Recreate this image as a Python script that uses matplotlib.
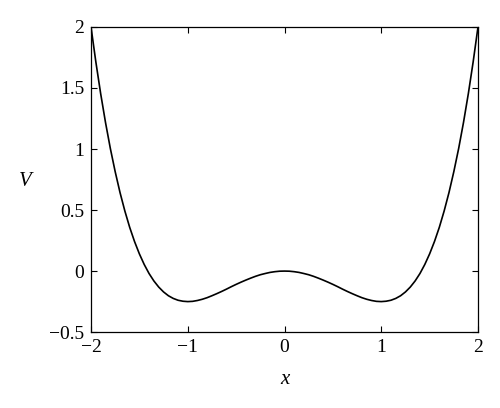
import matplotlib.pyplot as plt

# values at steps of 0.05
x = [-2.0, -1.95, -1.9, -1.85, -1.8, -1.75, -1.7, -1.65, -1.6, -1.55,
     -1.5, -1.45, -1.4, -1.35, -1.3, -1.25, -1.2, -1.15, -1.1, -1.05,
     -1.0, -0.95, -0.9, -0.85, -0.8, -0.75, -0.7, -0.65, -0.6, -0.55,
     -0.5, -0.45, -0.4, -0.35, -0.3, -0.25, -0.2, -0.15, -0.1, -0.05,
     0.0,
     0.05, 0.1, 0.15, 0.2, 0.25, 0.3, 0.35, 0.4, 0.45, 0.5,
     0.55, 0.6, 0.65, 0.7, 0.75, 0.8, 0.85, 0.9, 0.95, 1.0,
     1.05, 1.1, 1.15, 1.2, 1.25, 1.3, 1.35, 1.4, 1.45, 1.5,
     1.55, 1.6, 1.65, 1.7, 1.75, 1.8, 1.85, 1.9, 1.95, 2.0]
V = [2.0, 1.714, 1.453, 1.217, 1.004, 0.814, 0.643, 0.492, 0.358, 0.242,
     0.141, 0.054, -0.020, -0.081, -0.131, -0.171, -0.202, -0.224, -0.239, -0.247,
     -0.250, -0.248, -0.241, -0.231, -0.218, -0.202, -0.185, -0.167, -0.148, -0.128,
     -0.109, -0.091, -0.074, -0.058, -0.043, -0.030, -0.020, -0.011, -0.005, -0.001,
     0.0,
     -0.001, -0.005, -0.011, -0.020, -0.030, -0.043, -0.058, -0.074, -0.091, -0.109,
     -0.128, -0.148, -0.167, -0.185, -0.202, -0.218, -0.231, -0.241, -0.248, -0.250,
     -0.247, -0.239, -0.224, -0.202, -0.171, -0.131, -0.081, -0.020, 0.054, 0.141,
     0.242, 0.358, 0.492, 0.643, 0.814, 1.004, 1.217, 1.453, 1.714, 2.0]

xticks = [-2, -1, 0, 1, 2]
yticks = [-0.5, 0, 0.5, 1, 1.5, 2]

plt.rcParams["font.family"] = ["Liberation Serif", "DejaVu Serif"]
plt.rcParams["font.size"] = 14

fig = plt.figure(figsize=(5, 4.08), dpi=100)
ax = fig.add_axes([0.182, 0.186, 0.774, 0.748])
ax.plot(x, V, color="black", lw=1.2)

ax.set_xlim(-2, 2)
ax.set_ylim(-0.5, 2)
ax.set_xticks(xticks)
ax.set_yticks(yticks)
ax.set_xticklabels(["\u22122", "\u22121", "0", "1", "2"])
ax.set_yticklabels(["\u22120.5", "0", "0.5", "1", "1.5", "2"])
ax.tick_params(direction="in", length=4, width=0.8, top=True, right=True, pad=5)
for s in ax.spines.values():
    s.set_linewidth(0.9)

fig.text(25 / 500, 1 - 182 / 408, "V", style="italic", ha="center", va="center", fontsize=15)
fig.text(285 / 500, 1 - 380 / 408, "x", style="italic", ha="center", va="center", fontsize=15)

fig.savefig("out.png", dpi=100)
